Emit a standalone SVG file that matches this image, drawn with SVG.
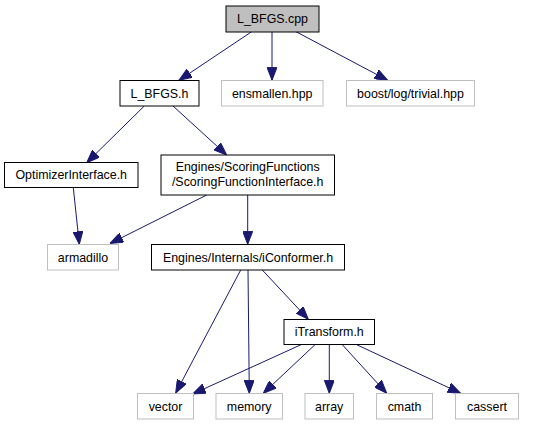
<svg xmlns="http://www.w3.org/2000/svg" width="549" height="425" viewBox="0 0 549 425">
<style>
.n rect{fill:#fff;stroke:#000;stroke-width:1}
.x rect{fill:#fff;stroke:#bfbfbf;stroke-width:1}
text{font-family:"Liberation Sans",Arial,sans-serif;font-size:12.4px;text-anchor:middle;fill:#000}
.e path{fill:none;stroke:#191970;stroke-width:1;marker-end:url(#ah)}
</style>
<defs>
<marker id="ah" viewBox="0 0 13 10" refX="13" refY="5" markerWidth="13" markerHeight="10" markerUnits="userSpaceOnUse" orient="auto">
<path d="M0,0 L13,5 L0,10 z" fill="#191970" stroke="#191970" stroke-width="1"/>
</marker>
</defs>
<rect width="549" height="425" fill="#fff"/>
<g class="e" id="edges">
<path d="M251.7,31.7 L179,80.3"/>
<path d="M272,31.7 L272,80.3"/>
<path d="M296,31.7 L387.7,80.3"/>
<path d="M144.3,106 L86.7,162.7"/>
<path d="M173,106 L226.7,155"/>
<path d="M73.3,187.7 L79.3,244.3"/>
<path d="M206.7,195 L110,243.5"/>
<path d="M247.7,195 L247.7,244.3"/>
<path d="M240.7,270 L175.7,393"/>
<path d="M248,270 L249.3,393.3"/>
<path d="M262.3,270 L308.3,319.3"/>
<path d="M301,344.7 L192.7,394"/>
<path d="M315,344.7 L263.3,393.3"/>
<path d="M329.3,344.7 L329.3,393.3"/>
<path d="M342.3,344.7 L386.7,393.3"/>
<path d="M356.7,344.7 L460.7,393.3"/>
</g>
<g id="n_cpp" class="n"><rect x="226" y="6" width="93" height="26" style="fill:#bfbfbf"/><text x="272.5" y="23.4">L_BFGS.cpp</text></g>
<g id="n_lbfgsh" class="n"><rect x="120" y="80.5" width="79" height="25.5"/><text x="159.5" y="97.6">L_BFGS.h</text></g>
<g id="n_ensmallen" class="x"><rect x="221.5" y="80.5" width="101.5" height="25.5"/><text x="272.2" y="97.6">ensmallen.hpp</text></g>
<g id="n_boost" class="x"><rect x="346.5" y="80.5" width="128" height="25.5"/><text x="410.5" y="97.6">boost/log/trivial.hpp</text></g>
<g id="n_opt" class="n"><rect x="4.5" y="162.5" width="133.5" height="25"/><text x="71.2" y="179.4">OptimizerInterface.h</text></g>
<g id="n_scoring" class="n"><rect x="161" y="155" width="173.5" height="40"/><text x="247.7" y="171">Engines/ScoringFunctions</text><text x="247.7" y="185.6">/ScoringFunctionInterface.h</text></g>
<g id="n_arma" class="x"><rect x="47.5" y="244.5" width="71" height="25.5"/><text x="83" y="261.5">armadillo</text></g>
<g id="n_iconf" class="n"><rect x="151.5" y="244.5" width="193" height="25.5"/><text x="248" y="261.5">Engines/Internals/iConformer.h</text></g>
<g id="n_itrans" class="n"><rect x="284" y="319.5" width="90.5" height="25"/><text x="329.2" y="336.4">iTransform.h</text></g>
<g id="n_vector" class="x"><rect x="137.5" y="393.5" width="56" height="25.5"/><text x="165.5" y="410.5">vector</text></g>
<g id="n_memory" class="x"><rect x="216" y="393.5" width="66.5" height="25.5"/><text x="249.2" y="410.5">memory</text></g>
<g id="n_array" class="x"><rect x="305" y="393.5" width="48.5" height="25.5"/><text x="329.2" y="410.5">array</text></g>
<g id="n_cmath" class="x"><rect x="376.5" y="393.5" width="56" height="25.5"/><text x="404.5" y="410.5">cmath</text></g>
<g id="n_cassert" class="x"><rect x="455.5" y="393.5" width="63" height="25.5"/><text x="487" y="410.5">cassert</text></g>
</svg>
